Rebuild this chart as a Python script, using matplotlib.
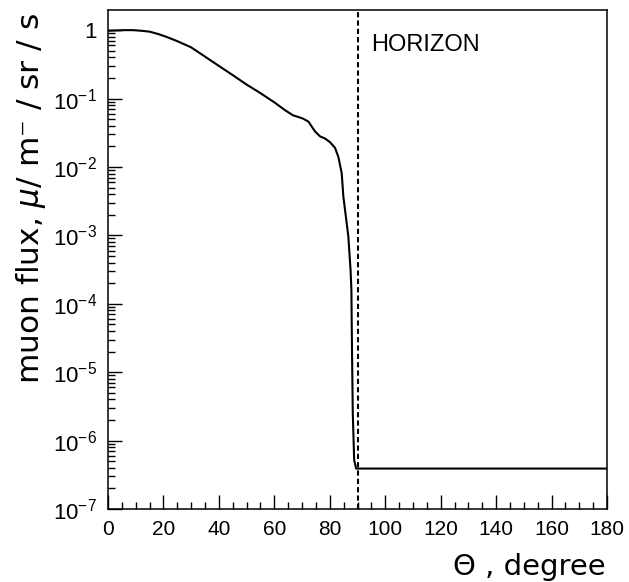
import numpy as np
import matplotlib
matplotlib.use("Agg")
import matplotlib.pyplot as plt
from matplotlib.ticker import FixedLocator, FuncFormatter, MultipleLocator

plt.rcParams["font.family"] = ["Liberation Sans", "DejaVu Sans"]
plt.rcParams["mathtext.default"] = "regular"

# muon flux vs zenith angle
theta = [0, 3, 6, 9, 12, 15, 18, 21, 25, 30, 35, 40, 45, 50, 55, 60, 64,
         66.7, 68.5, 70.3, 72.3, 74.7, 76.5, 78.3, 80.1, 81.9, 83.1, 84.3,
         84.9, 86.7, 87.5, 87.8, 88.0, 88.3, 88.8, 89.5, 90, 180]
flux = [0.98, 0.99, 1.0, 1.0, 0.98, 0.95, 0.88, 0.80, 0.69, 0.56, 0.41, 0.30,
        0.22, 0.16, 0.12, 0.088, 0.067,
        0.057, 0.054, 0.051, 0.046, 0.033, 0.028, 0.026, 0.023, 0.019, 0.014,
        0.0081, 3.7e-3, 9.6e-4, 3.1e-4, 1.6e-4, 2.4e-5, 2.5e-6, 5.2e-7,
        3.9e-7, 3.9e-7, 3.9e-7]
horizon = 90

fig = plt.figure(figsize=(6.29, 5.82), dpi=100)
ax = fig.add_axes([108 / 629, 1 - 509 / 582, 499 / 629, 499 / 582])

ax.plot(theta, flux, color="black", lw=1.5)
ax.axvline(horizon, color="black", lw=1.5, dashes=(2.5, 1.5))
ax.text(95, 0.6, "HORIZON", fontsize=17, va="center", ha="left")

ax.set_yscale("log")
ax.set_xlim(0, 180)
ax.set_ylim(1e-7, 1.97)

decades = [10.0 ** k for k in range(-7, 1)]
ax.yaxis.set_major_locator(FixedLocator(decades))
ax.yaxis.set_minor_locator(FixedLocator(
    [m * 10.0 ** k for k in range(-7, 0) for m in range(2, 10)]))


def ylab(v, pos):
    k = int(round(np.log10(v)))
    return "1" if k == 0 else "$10^{%d}$" % k


ax.yaxis.set_major_formatter(FuncFormatter(ylab))
ax.xaxis.set_major_locator(MultipleLocator(20))
ax.xaxis.set_minor_locator(MultipleLocator(5))

ax.tick_params(which="both", direction="in", top=False, right=False,
               labelsize=15, width=1)
ax.tick_params(which="major", length=10, pad=8)
ax.tick_params(which="minor", length=5)
ax.tick_params(axis="y", labelsize=16)
for s in ax.spines.values():
    s.set_linewidth(1.1)

fig.text(31 / 629, 1 - 13 / 582, "muon flux, $\\mathit{\\mu}$/ m\u207b / sr / s",
         rotation=90, ha="center", va="top", fontsize=22.5, family="DejaVu Sans")
fig.text(606 / 629, 1 - 567 / 582, "\u0398 , degree", ha="right",
         va="center", fontsize=21, family="DejaVu Sans")

fig.savefig("out.png", dpi=100)
